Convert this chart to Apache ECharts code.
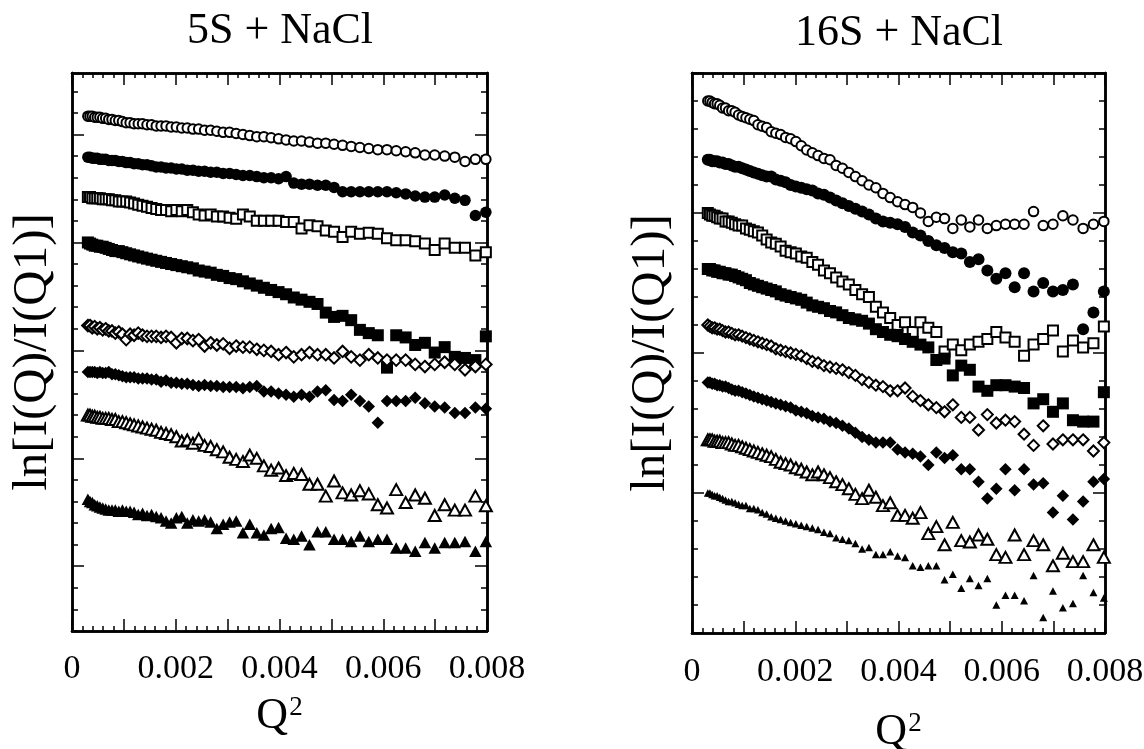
<!DOCTYPE html>
<html><head><meta charset="utf-8">
<script src="https://cdn.jsdelivr.net/npm/echarts@6/dist/echarts.min.js"></script>
<style>html,body{margin:0;padding:0;background:#fff}#c{width:1144px;height:749px}</style>
</head><body><div id="c"></div>
<script>
// ---- data (x = Q^2, y = ln[I(Q)/I(Q1)] in arbitrary units; one major tick = 1) ----
const Q2 = [0.000306,0.000347,0.000391,0.000438,0.000487,0.000538,0.000592,0.000649,0.000709,0.000771,
0.000835,0.000902,0.000972,0.001045,0.00112,0.001197,0.001277,0.00136,0.001446,0.001534,
0.001624,0.001717,0.001813,0.001911,0.002012,0.002116,0.002222,0.002331,0.002442,0.002556,
0.002673,0.002792,0.002914,0.003038,0.003165,0.003295,0.003427,0.003562,0.003699,0.003839,
0.003982,0.004127,0.004275,0.004425,0.004578,0.004733,0.004892,0.005052,0.005216,0.005382,
0.00555,0.005721,0.005895,0.006072,0.00625,0.006432,0.006616,0.006803,0.006992,0.007184,
0.007379,0.007576,0.007776,0.007978];

const xTickLabels = ['0','0.002','0.004','0.006','0.008'];
const xLabelValues = [0, 0.002, 0.004, 0.006, 0.008];
const xMajorTicks = [0, 0.001, 0.002, 0.003, 0.004, 0.005, 0.006, 0.007, 0.008];
const yMajorTicks = [0, 1, 2, 3, 4];

// 5S + NaCl
const s5_openCircle = [4.17,4.17,4.17,4.16,4.16,4.16,4.15,4.15,4.14,4.14,
4.13,4.13,4.12,4.11,4.11,4.10,4.10,4.10,4.09,4.09,
4.08,4.08,4.08,4.07,4.07,4.06,4.06,4.05,4.05,4.04,
4.04,4.03,4.02,4.02,4.01,4.00,3.99,3.98,3.98,3.97,
3.96,3.95,3.94,3.94,3.93,3.92,3.92,3.91,3.90,3.89,
3.88,3.87,3.86,3.86,3.85,3.84,3.83,3.81,3.81,3.80,
3.79,3.75,3.77,3.77];
const s5_filledCircle = [3.79,3.79,3.78,3.78,3.78,3.77,3.77,3.77,3.76,3.76,
3.76,3.75,3.75,3.74,3.74,3.73,3.73,3.72,3.72,3.71,
3.70,3.70,3.69,3.69,3.68,3.68,3.67,3.67,3.66,3.66,
3.65,3.65,3.64,3.64,3.63,3.62,3.62,3.61,3.60,3.60,
3.59,3.61,3.55,3.54,3.54,3.53,3.53,3.51,3.47,3.47,
3.47,3.47,3.47,3.47,3.46,3.45,3.43,3.42,3.42,3.44,
3.41,3.39,3.25,3.28];
const s5_openSquare = [3.42,3.42,3.41,3.41,3.41,3.41,3.40,3.40,3.40,3.39,
3.39,3.38,3.38,3.38,3.37,3.36,3.35,3.34,3.33,3.32,
3.31,3.30,3.30,3.29,3.30,3.29,3.30,3.28,3.26,3.25,
3.26,3.24,3.24,3.23,3.22,3.26,3.24,3.20,3.20,3.20,
3.20,3.19,3.19,3.13,3.16,3.15,3.11,3.10,3.05,3.10,
3.08,3.09,3.08,3.04,3.02,3.02,3.01,2.99,2.93,2.99,
2.95,2.95,2.88,2.91];
const s5_filledSquare = [3.00,2.99,2.98,2.97,2.97,2.96,2.96,2.95,2.94,2.93,
2.92,2.92,2.91,2.90,2.89,2.88,2.87,2.86,2.85,2.84,
2.83,2.82,2.81,2.80,2.79,2.78,2.77,2.76,2.74,2.73,
2.72,2.70,2.69,2.67,2.66,2.64,2.62,2.60,2.58,2.56,
2.54,2.52,2.49,2.47,2.45,2.43,2.35,2.31,2.32,2.28,
2.19,2.16,2.14,1.84,2.14,2.12,2.05,2.07,1.98,2.03,
1.94,1.93,1.91,2.13];
const s5_openDiamond = [2.23,2.23,2.21,2.22,2.20,2.21,2.19,2.20,2.18,2.18,
2.16,2.17,2.15,2.10,2.15,2.14,2.16,2.14,2.13,2.13,
2.13,2.12,2.13,2.12,2.07,2.11,2.11,2.09,2.10,2.04,
2.07,2.05,2.06,2.02,2.04,2.03,2.03,2.01,2.00,1.99,
1.96,1.98,1.94,1.96,1.98,1.96,1.96,1.93,1.99,1.94,
1.91,1.96,1.93,1.91,1.91,1.91,1.87,1.85,1.87,1.89,
1.87,1.82,1.85,1.87];
const s5_filledDiamond = [1.80,1.80,1.80,1.80,1.79,1.80,1.79,1.79,1.80,1.78,
1.78,1.77,1.76,1.75,1.75,1.75,1.74,1.74,1.74,1.73,
1.73,1.71,1.72,1.70,1.70,1.69,1.69,1.68,1.67,1.68,
1.67,1.67,1.66,1.66,1.66,1.65,1.66,1.67,1.62,1.62,
1.60,1.59,1.57,1.59,1.57,1.62,1.63,1.54,1.53,1.59,
1.53,1.48,1.33,1.53,1.53,1.53,1.56,1.51,1.48,1.47,
1.42,1.42,1.47,1.46];
const s5_openTriangle = [1.40,1.40,1.39,1.39,1.38,1.38,1.37,1.37,1.37,1.36,
1.36,1.34,1.34,1.33,1.32,1.31,1.30,1.29,1.28,1.27,
1.26,1.24,1.23,1.22,1.20,1.16,1.17,1.14,1.18,1.12,
1.11,1.08,1.06,1.01,0.99,0.97,1.03,1.00,0.93,0.89,
0.91,0.84,0.86,0.85,0.76,0.76,0.65,0.79,0.68,0.66,
0.70,0.67,0.57,0.54,0.71,0.59,0.66,0.63,0.47,0.57,
0.52,0.52,0.65,0.56];
const s5_filledTriangle = [0.62,0.60,0.59,0.57,0.56,0.55,0.54,0.53,0.52,0.52,
0.52,0.51,0.52,0.51,0.51,0.50,0.48,0.49,0.47,0.48,
0.46,0.45,0.42,0.40,0.45,0.46,0.40,0.43,0.42,0.43,
0.41,0.35,0.39,0.41,0.42,0.31,0.39,0.31,0.29,0.35,
0.36,0.26,0.25,0.28,0.20,0.32,0.32,0.25,0.25,0.23,
0.28,0.23,0.25,0.25,0.17,0.17,0.14,0.22,0.17,0.22,
0.22,0.23,0.14,0.23];

// 16S + NaCl
const s16_openCircle = [3.80,3.80,3.79,3.78,3.78,3.77,3.75,3.75,3.73,3.73,
3.72,3.70,3.69,3.68,3.67,3.66,3.63,3.62,3.61,3.58,
3.57,3.56,3.54,3.53,3.51,3.48,3.45,3.43,3.41,3.39,
3.38,3.34,3.32,3.29,3.26,3.23,3.20,3.18,3.14,3.11,
3.08,3.06,3.04,3.00,2.94,2.97,2.96,2.89,2.95,2.90,
2.95,2.89,2.91,2.92,2.92,2.92,3.01,2.91,2.92,2.98,
2.95,2.89,2.92,2.94];
const s16_filledCircle = [3.38,3.38,3.37,3.37,3.37,3.36,3.36,3.35,3.35,3.34,
3.33,3.33,3.32,3.31,3.30,3.29,3.28,3.27,3.26,3.26,
3.24,3.23,3.22,3.20,3.19,3.18,3.17,3.16,3.14,3.13,
3.11,3.09,3.07,3.05,3.03,3.01,2.99,2.96,2.94,2.93,
2.92,2.90,2.86,2.84,2.80,2.77,2.75,2.72,2.71,2.65,
2.67,2.59,2.53,2.57,2.47,2.57,2.44,2.50,2.44,2.45,
2.49,2.17,2.29,2.44];
const s16_openSquare = [3.00,2.99,2.98,2.98,2.97,2.96,2.96,2.94,2.94,2.93,
2.92,2.91,2.91,2.89,2.88,2.87,2.86,2.84,2.81,2.79,
2.78,2.76,2.73,2.72,2.71,2.69,2.68,2.65,2.63,2.59,
2.57,2.54,2.51,2.49,2.45,2.42,2.40,2.33,2.29,2.25,
2.20,2.22,2.15,2.22,2.18,2.15,2.01,2.06,2.02,2.06,
2.08,2.10,2.15,2.11,2.08,1.98,2.06,2.10,2.16,2.01,
2.09,2.04,2.07,2.19];
const s16_filledSquare = [2.60,2.60,2.59,2.59,2.58,2.58,2.57,2.57,2.56,2.56,
2.55,2.54,2.53,2.52,2.50,2.49,2.48,2.47,2.46,2.45,
2.44,2.42,2.41,2.40,2.39,2.38,2.36,2.34,2.33,2.32,
2.30,2.29,2.27,2.25,2.24,2.23,2.21,2.17,2.15,2.13,
2.12,2.10,2.08,2.06,2.04,1.95,1.96,1.84,1.91,1.88,
1.76,1.73,1.77,1.77,1.76,1.75,1.64,1.67,1.58,1.64,
1.52,1.51,1.51,1.72];
const s16_openDiamond = [2.20,2.19,2.18,2.18,2.17,2.17,2.16,2.15,2.15,2.14,
2.13,2.13,2.12,2.11,2.10,2.09,2.08,2.07,2.06,2.05,
2.03,2.02,2.01,2.00,1.99,1.98,1.96,1.94,1.93,1.91,
1.90,1.89,1.88,1.86,1.84,1.81,1.79,1.77,1.76,1.73,
1.73,1.75,1.69,1.66,1.63,1.61,1.58,1.63,1.54,1.54,
1.45,1.56,1.50,1.52,1.51,1.42,1.34,1.48,1.35,1.38,
1.38,1.38,1.30,1.36];
const s16_filledDiamond = [1.79,1.79,1.78,1.78,1.77,1.77,1.76,1.76,1.75,1.74,
1.73,1.73,1.72,1.71,1.70,1.69,1.68,1.67,1.66,1.65,
1.64,1.63,1.62,1.61,1.59,1.58,1.57,1.55,1.54,1.53,
1.51,1.50,1.48,1.46,1.43,1.40,1.38,1.36,1.36,1.36,
1.31,1.29,1.28,1.26,1.20,1.29,1.25,1.27,1.17,1.17,
1.08,0.96,1.03,1.17,1.02,1.17,1.06,1.07,0.86,0.98,
0.81,0.94,1.08,1.10];
const s16_openTriangle = [1.38,1.38,1.38,1.37,1.37,1.37,1.36,1.36,1.36,1.35,
1.34,1.34,1.33,1.32,1.31,1.30,1.29,1.28,1.27,1.26,
1.24,1.22,1.21,1.20,1.18,1.17,1.15,1.13,1.15,1.13,
1.11,1.08,1.06,1.03,0.99,0.96,1.02,0.97,0.91,0.93,
0.84,0.84,0.82,0.86,0.71,0.76,0.63,0.79,0.66,0.65,
0.70,0.67,0.56,0.54,0.70,0.56,0.66,0.63,0.48,0.57,
0.51,0.51,0.63,0.54];
const s16_filledTriangle = [1.00,1.00,0.99,0.98,0.98,0.97,0.96,0.95,0.94,0.94,
0.93,0.92,0.91,0.91,0.89,0.89,0.88,0.86,0.85,0.83,
0.82,0.81,0.80,0.79,0.78,0.77,0.76,0.75,0.74,0.72,
0.71,0.68,0.67,0.66,0.64,0.60,0.61,0.56,0.56,0.58,
0.55,0.54,0.48,0.47,0.48,0.48,0.38,0.42,0.32,0.39,
0.34,0.39,0.20,0.27,0.27,0.23,0.41,0.11,0.30,0.18,
0.21,0.41,0.29,0.25];

// ---- chart ----
const FONT = "'Liberation Serif','Times New Roman',serif";
const BLACK = '#000';

// minor tick positions: every fifth of a major interval
function minorBetween(lo, hi, step, n) {
  const out = [];
  for (let v = lo; v < hi - step * 1e-6; v += step) {
    for (let j = 1; j < n; j++) out.push(+(v + step * j / n).toFixed(8));
  }
  return out;
}
const xMinorTicks = minorBetween(0, 0.008, 0.001, 5);

const panels = [
  { title: '5S + NaCl', titleX: 280, titleY: 31,
    grid: { left: 72, top: 73, width: 415, height: 558 },
    yMin: -0.6, yMax: 4.57, yNameGap: 14, xNameGap: 63, labelMargin: 21,
    series: [
      [s5_openCircle, 'emptyCircle', 9.5], [s5_filledCircle, 'circle', 11.5],
      [s5_openSquare, 'emptyRect', 10], [s5_filledSquare, 'rect', 12],
      [s5_openDiamond, 'emptyDiamond', 11.5], [s5_filledDiamond, 'diamond', 12.5],
      [s5_openTriangle, 'emptyTriangle', [12, 11]], [s5_filledTriangle, 'triangle', [12.5, 11.5]]
    ] },
  { title: '16S + NaCl', titleX: 899, titleY: 33.5,
    grid: { left: 692, top: 73, width: 413, height: 560 },
    yMin: 0, yMax: 4, yNameGap: 16, xNameGap: 77, labelMargin: 22,
    series: [
      [s16_openCircle, 'emptyCircle', 9.5], [s16_filledCircle, 'circle', 12],
      [s16_openSquare, 'emptyRect', 10], [s16_filledSquare, 'rect', 12],
      [s16_openDiamond, 'emptyDiamond', 11], [s16_filledDiamond, 'diamond', 12.5],
      [s16_openTriangle, 'emptyTriangle', [12, 11]], [s16_filledTriangle, 'triangle', [8, 7.5]]
    ] }
];

const lineStyle = { color: BLACK, width: 2.5 };
const tickStyle = { color: BLACK, width: 1.5 };

const grid = [], xAxis = [], yAxis = [], series = [], graphic = [];

panels.forEach((p, gi) => {
  grid.push(Object.assign({ containLabel: false, outerBoundsMode: 'none' }, p.grid));
  const yMinorTicks = minorBetween(Math.floor(p.yMin), Math.ceil(p.yMax), 1, 5)
    .filter(v => v >= p.yMin - 1e-9 && v <= p.yMax + 1e-9);
  const xIndexBase = xAxis.length;

  const xAx = (pos, ticks, len, extra) => Object.assign({
    gridIndex: gi, type: 'value', min: 0, max: 0.008, position: pos,
    axisLine: { show: true, onZero: false, lineStyle },
    axisTick: { show: true, inside: true, length: len, lineStyle: tickStyle, customValues: ticks },
    axisLabel: { show: false }, splitLine: { show: false }
  }, extra || {});

  xAxis.push(xAx('bottom', xMajorTicks, 12, {
    axisLabel: {
      show: true, margin: p.labelMargin, fontSize: 34, fontFamily: FONT, color: BLACK,
      customValues: xLabelValues,
      formatter: v => {
        const k = xLabelValues.findIndex(t => Math.abs(t - v) < 1e-7);
        return k >= 0 ? xTickLabels[k] : '';
      }
    },
    name: '{q|Q}{s|2}', nameLocation: 'middle', nameGap: p.xNameGap,
    nameTextStyle: {
      color: BLACK, fontFamily: FONT,
      rich: {
        q: { fontSize: 44, fontFamily: FONT, color: BLACK },
        s: { fontSize: 27, fontFamily: FONT, color: BLACK, verticalAlign: 'top', padding: [0, 0, 0, 1] }
      }
    }
  }));
  xAxis.push(xAx('bottom', xMinorTicks, 5));
  xAxis.push(xAx('top', xMajorTicks, 12));
  xAxis.push(xAx('top', xMinorTicks, 5));

  const yIndexBase = yAxis.length;
  const yAx = (pos, ticks, len, extra) => Object.assign({
    gridIndex: gi, type: 'value', min: p.yMin, max: p.yMax, position: pos,
    axisLine: { show: true, onZero: false, lineStyle },
    axisTick: { show: true, inside: true, length: len, lineStyle: tickStyle, customValues: ticks },
    axisLabel: { show: false }, splitLine: { show: false }
  }, extra || {});

  yAxis.push(yAx('left', yMajorTicks, 12, {
    name: 'ln[I(Q)/I(Q1)]', nameLocation: 'middle', nameRotate: 90, nameGap: p.yNameGap,
    nameTextStyle: { fontSize: 49, fontFamily: FONT, color: BLACK }
  }));
  yAxis.push(yAx('left', yMinorTicks, 6));
  yAxis.push(yAx('right', yMajorTicks, 12));
  yAxis.push(yAx('right', yMinorTicks, 6));

  p.series.forEach(([ys, symbol, size]) => {
    const empty = symbol.indexOf('empty') === 0;
    series.push({
      type: 'scatter', xAxisIndex: xIndexBase, yAxisIndex: yIndexBase,
      symbol, symbolSize: size,
      itemStyle: { color: BLACK, borderColor: BLACK, borderWidth: empty ? 2 : 0, opacity: 1 },
      emphasis: { disabled: true },
      data: Q2.map((x, i) => [x, ys[i]])
    });
  });

  graphic.push({
    type: 'text', x: p.titleX, y: p.titleY, silent: true,
    style: { text: p.title, fill: BLACK, font: '44px ' + FONT,
      align: 'center', verticalAlign: 'middle' }
  });
});

const chart = echarts.init(document.getElementById('c'), null, { renderer: 'canvas' });
chart.setOption({
  backgroundColor: '#fff', animation: false,
  grid, xAxis, yAxis, series, graphic
});
</script>
</body></html>
